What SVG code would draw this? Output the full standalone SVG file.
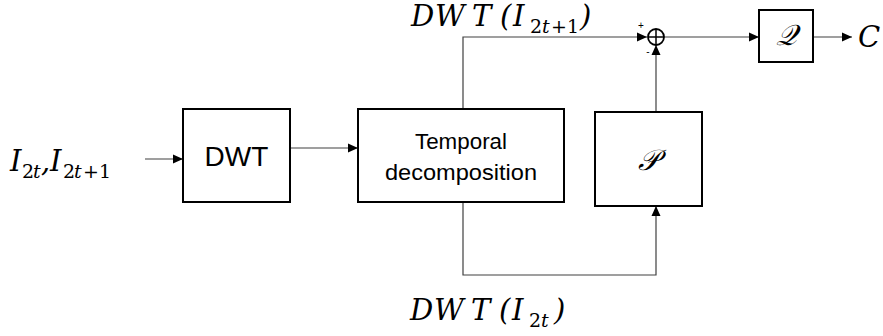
<svg xmlns="http://www.w3.org/2000/svg" width="883" height="336" viewBox="0 0 883 336">
<defs>
<marker id="arr" viewBox="0 0 10 10" refX="10" refY="5" markerWidth="10" markerHeight="10" markerUnits="userSpaceOnUse" orient="auto">
<path d="M0,0.5 L10,5 L0,9.5 Z" fill="#000"/>
</marker>
<style>
.box{fill:#fff;stroke:#000;stroke-width:2}
.con{fill:none;stroke:#404040;stroke-width:1.2}
.sans{font-family:"Liberation Sans",Arial,sans-serif;fill:#000}
.math{font-family:"DejaVu Serif","Liberation Serif",serif;font-style:italic;fill:#000;font-size:29px}
.sub{font-style:normal;font-size:19px}
.subi{font-style:italic;font-size:19px}
.sym{font-size:10px;font-family:"Liberation Sans",Arial,sans-serif;fill:#000}
</style>
</defs>
<rect width="883" height="336" fill="#fff"/>
<g id="connectors">
<line class="con" x1="145" y1="159" x2="183" y2="159" marker-end="url(#arr)"/>
<line class="con" x1="290" y1="148" x2="358" y2="148" marker-end="url(#arr)"/>
<polyline class="con" points="463,109 463,37 647,37" marker-end="url(#arr)"/>
<polyline class="con" points="463,202 463,275 656,275 656,206" marker-end="url(#arr)"/>
<line class="con" x1="656" y1="112" x2="656" y2="45" marker-end="url(#arr)"/>
<line class="con" x1="664" y1="37" x2="759" y2="37" marker-end="url(#arr)"/>
<line class="con" x1="813" y1="37" x2="852" y2="37" marker-end="url(#arr)"/>
</g>
<g id="sum">
<circle cx="656" cy="37" r="8" fill="#fff" stroke="#000" stroke-width="1.8"/>
<line x1="648" y1="37" x2="664" y2="37" stroke="#000" stroke-width="1.5"/>
<line x1="656" y1="29" x2="656" y2="45" stroke="#000" stroke-width="1.5"/>
<text class="sym" x="641" y="29" text-anchor="middle">+</text>
<text class="sym" x="648" y="55" text-anchor="middle">-</text>
</g>
<g id="input">
<text class="math" y="171"><tspan x="10">I</tspan><tspan class="sub" x="22" y="178">2</tspan><tspan class="subi" x="33" y="178">t</tspan><tspan x="41" y="171">,</tspan><tspan x="50" y="171">I</tspan><tspan class="sub" x="63" y="178">2</tspan><tspan class="subi" x="74" y="178">t</tspan><tspan class="sub" x="83" y="178">+</tspan><tspan class="sub" x="99" y="178">1</tspan></text>
</g>
<g id="dwt">
<rect class="box" x="183" y="109" width="107" height="93"/>
<text class="sans" x="236.5" y="166" font-size="28" text-anchor="middle">DWT</text>
</g>
<g id="temporal">
<rect class="box" x="358" y="109" width="206" height="93"/>
<text class="sans" x="461" y="149" font-size="22" text-anchor="middle" textLength="92" lengthAdjust="spacingAndGlyphs">Temporal</text>
<text class="sans" x="461" y="180" font-size="22" text-anchor="middle" textLength="152" lengthAdjust="spacingAndGlyphs">decomposition</text>
</g>
<g id="predict">
<rect class="box" x="595" y="112" width="107" height="94"/>
<text class="math" x="648.5" y="170" text-anchor="middle" font-style="normal" font-size="28">𝒫</text>
</g>
<g id="quant">
<rect class="box" x="759" y="10" width="54" height="52"/>
<text class="math" x="786" y="45" text-anchor="middle" font-style="normal" font-size="28">𝒬</text>
</g>
<g id="labels">
<text class="math" y="26" font-size="27"><tspan x="411">D</tspan><tspan x="435">W</tspan><tspan x="472">T</tspan><tspan x="500">(</tspan><tspan x="513">I</tspan><tspan class="sub" x="530" y="33">2</tspan><tspan class="subi" x="542" y="33">t</tspan><tspan class="sub" x="551" y="33">+</tspan><tspan class="sub" x="567" y="33">1</tspan><tspan x="580" y="26">)</tspan></text>
<text class="math" y="320"><tspan x="410">D</tspan><tspan x="434">W</tspan><tspan x="471">T</tspan><tspan x="499">(</tspan><tspan x="512">I</tspan><tspan class="sub" x="529" y="327">2</tspan><tspan class="subi" x="541" y="327">t</tspan><tspan x="554" y="320">)</tspan></text>
<text class="math" x="858" y="47">C</text>
</g>
</svg>
